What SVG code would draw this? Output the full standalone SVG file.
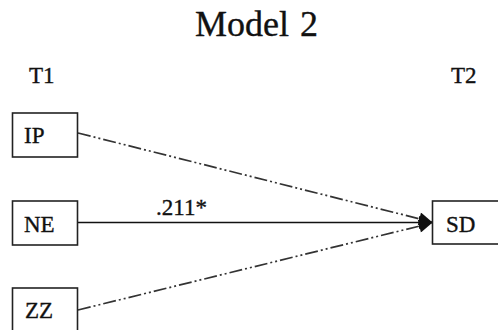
<svg xmlns="http://www.w3.org/2000/svg" width="498" height="330" viewBox="0 0 498 330">
<style>
text{font-family:"Liberation Serif","Times New Roman",serif;fill:#111;stroke:#111;stroke-width:0.35}
.box{fill:#fff;stroke:#222;stroke-width:1.6}
.lbl{font-size:23px}
.dd{fill:none;stroke:#333;stroke-width:1.7;stroke-dasharray:13 3 2 3 2 3}
.sol{fill:none;stroke:#111;stroke-width:1.6}
</style>
<defs>
<marker id="ah" viewBox="0 0 10 10" refX="10" refY="5" markerWidth="15" markerHeight="13" markerUnits="userSpaceOnUse" orient="auto">
<path d="M0,0 L10,5 L0,10 Z" fill="#111"/>
</marker>
</defs>
<rect width="498" height="330" fill="#fff"/>
<text x="195" y="36" font-size="36">Model</text>
<text x="300" y="36" font-size="36">2</text>
<text x="29" y="83" class="lbl">T1</text>
<text x="451" y="83" class="lbl">T2</text>
<g id="connectors">
<line class="dd" x1="78" y1="133" x2="432" y2="222" marker-end="url(#ah)"/>
<line class="dd" x1="78" y1="310" x2="432" y2="223" marker-end="url(#ah)"/>
<line class="sol" x1="78" y1="222.5" x2="432" y2="222.5" marker-end="url(#ah)"/>
<text x="156" y="215" class="lbl">.211*</text>
</g>
<g id="IP"><rect class="box" x="12.5" y="113" width="65" height="44"/><text x="24" y="143" class="lbl">IP</text></g>
<g id="NE"><rect class="box" x="12.5" y="201" width="65" height="44"/><text x="24" y="232" class="lbl">NE</text></g>
<g id="ZZ"><rect class="box" x="12.5" y="288" width="65" height="50"/><text x="25" y="318" class="lbl">ZZ</text></g>
<g id="SD"><rect class="box" x="432.5" y="201" width="70" height="43"/><text x="446" y="232" class="lbl">SD</text></g>
</svg>
